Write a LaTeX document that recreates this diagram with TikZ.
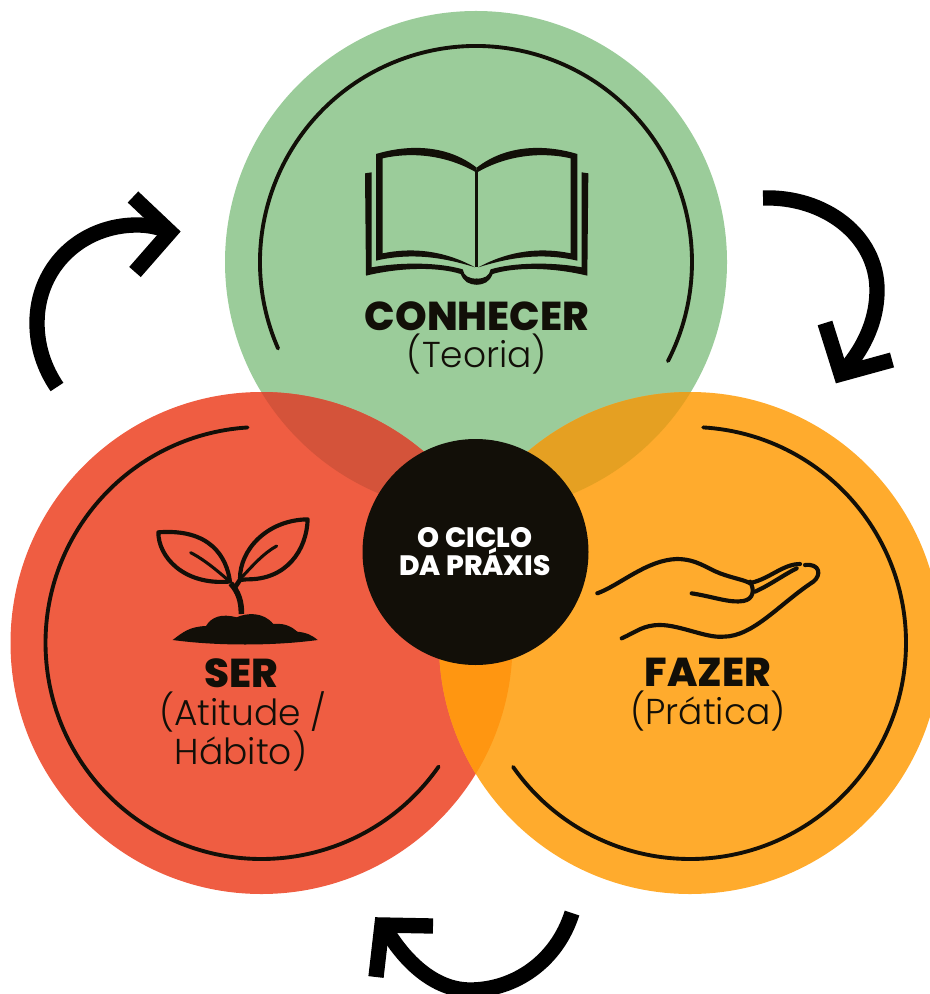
\documentclass[tikz,border=0pt]{standalone}
\usepackage{fontspec}
\setmainfont{Poppins}
\newfontfamily\lightfont{Poppins Light}
\newfontfamily\heavyfont{Poppins ExtraBold}
\definecolor{verde}{HTML}{9BCC9A}
\definecolor{vermelho}{HTML}{EF5D42}
\definecolor{laranja}{HTML}{FFAB2D}
\definecolor{verdevermelho}{HTML}{D4533A}
\definecolor{verdelaranja}{HTML}{E5A022}
\definecolor{vermelholaranja}{HTML}{FF9611}
\definecolor{tinta}{HTML}{120F08}
\tikzset{
  ring/.style={color=tinta,line width=2.9pt,line cap=round},
  seta/.style={color=black,line width=11.5pt,miter limit=10},
  traco/.style={color=tinta,line width=3.1pt,line cap=round,line join=round},
  titulo/.style={inner sep=0,anchor=base,text=tinta,font=\fontsize{30.2}{30.2}\selectfont\heavyfont},
  sub/.style={inner sep=0,anchor=base,text=tinta,font=\fontsize{27}{27}\selectfont\lightfont},
  centro/.style={inner sep=0,anchor=base,text=white,font=\fontsize{21}{21}\selectfont\heavyfont}
}
\begin{document}
\begin{tikzpicture}[x=0.75pt,y=-0.75pt]
      \useasboundingbox (0,0) rectangle (929,994);
      \coordinate (cconhecer) at (476,262);
      \coordinate (cser) at (261.5,643);
      \coordinate (cfazer) at (690,643);
      % circles
      \fill[verde] (cconhecer) circle (251);
      \fill[vermelho] (cser) circle (251);
      \fill[laranja] (cfazer) circle (251);
      % overlaps
      \begin{scope}
        \clip (cconhecer) circle (251);
        \fill[verdevermelho] (cser) circle (251);
        \fill[verdelaranja] (cfazer) circle (251);
      \end{scope}
      \begin{scope}
        \clip (cser) circle (251);
        \fill[vermelholaranja] (cfazer) circle (251);
      \end{scope}
      % inner arcs
      \draw[ring] ([shift={(156.4:216)}]cconhecer) arc[start angle=156.4,end angle=387.3,radius=216];
      \draw[ring] ([shift={(-93.7:216)}]cser) arc[start angle=-93.7,end angle=-325.1,radius=216];
      \draw[ring] ([shift={(-86.5:216)}]cfazer) arc[start angle=-86.5,end angle=145,radius=216];
      % centre
      \fill[tinta] (475.5,552) circle (113);
      \node[centro] (ciclo) at (475,547) {O CICLO};
      \node[centro] (praxis) at (475,575) {DA PRÁXIS};
      % labels
      \node[titulo] (conhecer) at (477,330) {CONHECER};
      \node[sub] (teoria) at (477,367) {(Teoria)};
      \node[titulo] (ser) at (241,687) {SER};
      \node[sub] (atitude) at (243,725) {(Atitude /};
      \node[sub] (habito) at (241,764) {Hábito)};
      \node[titulo] (fazer) at (708,686) {FAZER};
      \node[sub] (pratica) at (708,724) {(Prática)};
      % cycle arrows
      \draw[seta] (57,387) .. controls (44,368) and (37,346) .. (37,323) .. controls (37,266) and (82,225) .. (137,225) .. controls (148,225) and (158,227) .. (168,231);
      \draw[seta] (133,197) -- (170,232) -- (135,272);
      \draw[seta] (763,198) .. controls (825,196) and (877,236) .. (877,290) .. controls (877,325) and (860,353) .. (843,372);
      \draw[seta] (825,323) -- (841,374) -- (892,360);
      \draw[seta] (572,913) .. controls (557,961) and (515,990) .. (470,990) .. controls (435,990) and (405,962) .. (385,928);
      \draw[seta] (433,926) -- (382,925) -- (376,977);
      % book
      \begin{scope}[shift={(340,130)},scale=1/3]
        \foreach \s in {1,-1} {
          \begin{scope}[shift={(410,0)},xscale=\s,shift={(-410,0)}]
            \fill[tinta] (108,72) .. controls (205,43) and (320,43) .. (410,113) -- (410,128) .. controls (320,75) and (215,65) .. (128,85) -- (128,370) .. controls (215,352) and (310,360) .. (405,412) .. controls (310,382) and (215,367) .. (108,392) -- cycle;
            \fill[tinta] (75,130) -- (95,127) -- (95,412) .. controls (190,395) and (300,398) .. (368,418) .. controls (372,438) and (385,446) .. (412,446) -- (412,464) .. controls (385,464) and (372,455) .. (362,432) .. controls (300,412) and (190,410) .. (78,437) -- cycle;
          \end{scope}
        }
        \draw[tinta,line width=1.9pt] (410,120) -- (410,412);
      \end{scope}
      % sprout
      \begin{scope}[shift={(140,500)},scale=1/3]
        \draw[traco] (270,245) .. controls (260,170) and (210,85) .. (55,97) .. controls (55,170) and (130,255) .. (265,245);
        \draw[traco] (300,235) .. controls (300,150) and (380,60) .. (503,58) .. controls (500,150) and (440,240) .. (320,238) -- (300,240);
        \draw[traco,line width=2.3pt] (152,158) .. controls (195,180) and (235,215) .. (270,245);
        \draw[traco,line width=2.3pt] (410,138) .. controls (370,160) and (340,195) .. (305,232);
        \draw[tinta,line width=4.2pt] (272,250) .. controls (295,275) and (305,305) .. (304,342);
        \draw[tinta,line width=3.5pt] (305,232) -- (285,262);
        \fill[tinta] (98,420) .. controls (130,395) and (150,380) .. (198,378) .. controls (215,350) and (245,340) .. (290,352) .. controls (320,338) and (370,335) .. (400,372) .. controls (440,368) and (460,385) .. (472,395) .. controls (500,398) and (515,405) .. (533,420) .. controls (400,438) and (230,438) .. (98,420) -- cycle;
      \end{scope}
      % hand
      \begin{scope}[shift={(580,540)},scale=1/3]
        \draw[traco] (52,160) .. controls (120,135) and (200,60) .. (290,57) .. controls (350,57) and (380,85) .. (420,100) .. controls (460,115) and (495,120) .. (510,130);
        \draw[traco] (335,160) .. controls (400,170) and (450,190) .. (490,183) .. controls (520,178) and (525,150) .. (510,125);
        \draw[traco] (515,128) .. controls (570,115) and (610,72) .. (660,72);
        \draw[traco] (525,155) .. controls (570,135) and (610,105) .. (650,85);
        \draw[traco] (125,295) .. controls (170,275) and (190,255) .. (240,255) .. controls (300,255) and (380,295) .. (430,290) .. controls (520,290) and (600,190) .. (700,125) .. controls (725,105) and (720,70) .. (675,75);
      \end{scope}
\end{tikzpicture}
\end{document}
